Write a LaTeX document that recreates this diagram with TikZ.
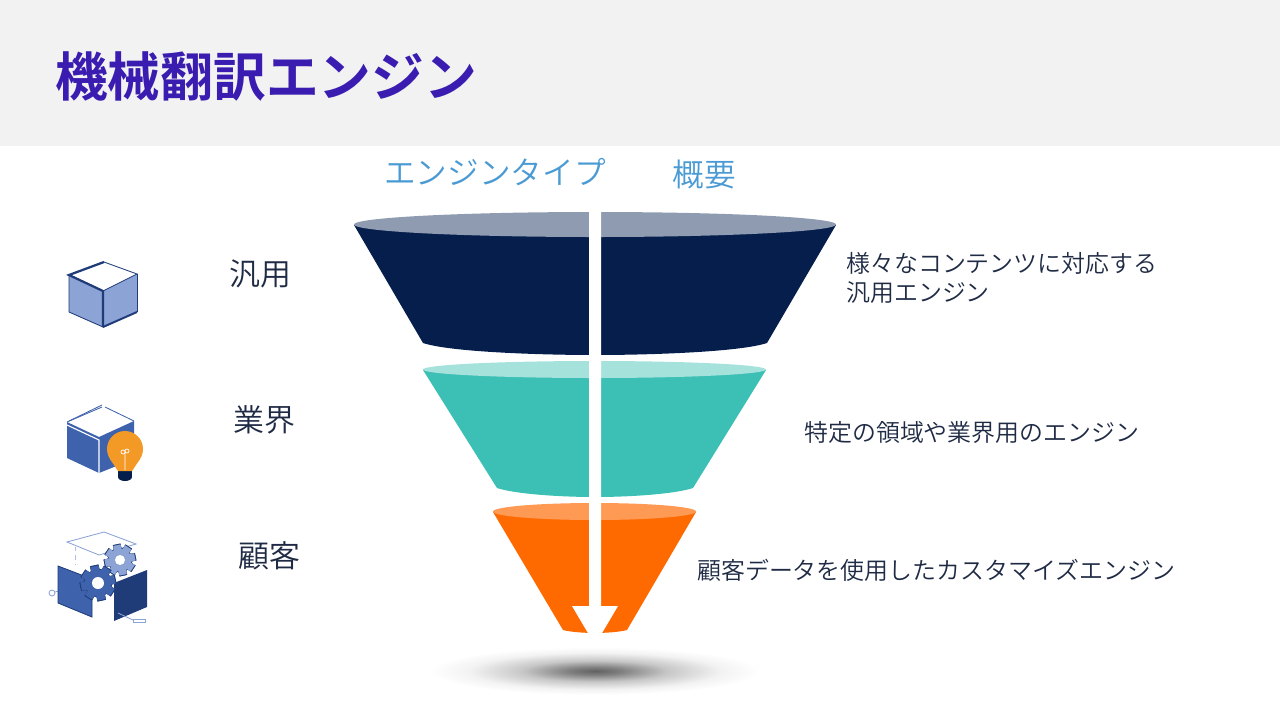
\documentclass[tikz,border=0pt]{standalone}
\usepackage{fontspec}
\setmainfont{Noto Sans CJK JP DemiLight}[BoldFont={Noto Sans CJK JP Bold}]
\definecolor{headgray}{HTML}{F2F2F2}
\definecolor{titleblue}{HTML}{3A1CB0}
\definecolor{skyblue}{HTML}{4A9AD4}
\definecolor{inkblue}{HTML}{1F2A44}
\definecolor{navy}{HTML}{051E4C}
\definecolor{navylight}{HTML}{8F9BB0}
\definecolor{teal1}{HTML}{3CBFB5}
\definecolor{teallight}{HTML}{A5E2DC}
\definecolor{orange1}{HTML}{FF6A00}
\definecolor{orangelight}{HTML}{FF9A55}
\definecolor{iconpale}{HTML}{8CA3D6}
\definecolor{iconmid}{HTML}{3E62AC}
\definecolor{icondark}{HTML}{1F3B78}
\definecolor{bulb}{HTML}{F39A26}
\pgfdeclareradialshading{floorshadow}{\pgfpoint{0bp}{0bp}}{color(0bp)=(black!62);color(4bp)=(black!50);color(11bp)=(black!22);color(19bp)=(black!5);color(25bp)=(white);color(50bp)=(white)}
\newcommand{\geartooth}[4]{
	\foreach \ang in {0,45,...,315}{
		\fill[#4,rotate around={\ang+12:(#1,#2)}] ({#1-#3*0.24},{#2-#3}) rectangle ({#1+#3*0.24},{#2+#3});
	}
	\fill[#4] (#1,#2) circle [radius=#3*0.78];
}
\begin{document}
\begin{tikzpicture}
	[x=0.25mm,y=-0.25mm,
	headtext/.style={text=titleblue,font=\fontsize{37.5}{45}\selectfont\bfseries},
	coltext/.style={text=skyblue,font=\fontsize{22.5}{27}\selectfont},
	typetext/.style={text=inkblue,font=\fontsize{22}{26}\selectfont},
	desctext/.style={text=inkblue,anchor=west,align=left,inner sep=0pt,font=\fontsize{17.02}{20}\selectfont}]
	\useasboundingbox (0,0) rectangle (1280,720);
	\fill[headgray] (0,0) rectangle (1280,146);
	\node[headtext,name=title] at (266,76) {機械翻訳エンジン};
	\node[coltext,name=coltype] at (495,172) {エンジンタイプ};
	\node[coltext,name=colsum] at (704,174) {概要};
	\node[typetext,name=general] at (260,274) {汎用};
	\node[typetext,name=industry] at (264,420) {業界};
	\node[typetext,name=customer] at (269.5,556) {顧客};
	\node[desctext,name=descgeneral] at (846,278) {様々なコンテンツに対応する\\汎用エンジン};
	\node[desctext,name=descindustry] at (804,432) {特定の領域や業界用のエンジン};
	\node[desctext,name=desccustomer] at (697,570) {顧客データを使用したカスタマイズエンジン};
	\shade[shading=floorshadow] (595,671) ellipse [x radius=165,y radius=24];
	\fill[navy] (354,225)--(423,343) .. controls (450,352) and (540,355) .. (595,355) .. controls (650,355) and (740,352) .. (767,343)--(836,225)--cycle;
	\fill[navylight] (595,224.5) ellipse [x radius=241,y radius=12.5];
	\fill[teal1] (423,370)--(497,488) .. controls (515,494) and (560,497) .. (595,497) .. controls (630,497) and (675,494) .. (693,488)--(766,370)--cycle;
	\fill[teallight] (594.5,369.5) ellipse [x radius=171.5,y radius=8.5];
	\fill[orange1] (493,512)--(563,630) .. controls (570,632) and (585,633) .. (595,633) .. controls (605,633) and (620,632) .. (627,630)--(696,512)--cycle;
	\fill[orangelight] (594.5,511.5) ellipse [x radius=101.5,y radius=8.5];
	\fill[white] (589,205)--(601,205)--(601,606)--(618,606)--(595,645)--(572,606)--(589,606)--cycle;
	\fill[iconpale] (69,275)--(103,291)--(137,274)--(137,312)--(103,327)--(69,312)--cycle;
	\draw[icondark,line width=1.6pt] (104,262)--(69,275)--(103,291)--(103,327);
	\draw[icondark,line width=0.6pt] (104,262)--(137,274)--(103,291);
	\draw[icondark,line width=0.6pt] (137,274)--(137,312);
	\draw[icondark,line width=0.6pt] (69,275)--(69,312)--(103,327);
	\draw[icondark,line width=1.4pt] (103,327)--(137,312);
	\fill[iconmid] (67,422)--(99,437)--(134,421)--(134,459)--(99,473)--(67,458)--cycle;
	\draw[iconmid,line width=0.6pt] (67,422)--(102,407);
	\draw[iconmid,line width=0.6pt] (105,407)--(134,421);
	\draw[iconmid,line width=0.6pt] (69,421)--(102,405);
	\draw[white,line width=0.8pt] (67,425)--(99,440)--(99,473);
	\fill[navy] (118,468) rectangle (132,477);
	\fill[navy] (125,477) ellipse [x radius=7,y radius=4];
	\fill[bulb] (125,449) circle [radius=18];
	\fill[bulb] (110,459)--(118,471)--(132,471)--(140,459)--cycle;
	\draw[white,line width=0.5pt] (125,470)--(125,452) (123,452) circle [radius=2] (127,451) circle [radius=2];
	\draw[iconpale,fill=white,line width=0.6pt] (104,532)--(136,544)--(99,555)--(67,542)--cycle;
	\draw[iconpale!70!white,dashed,line width=0.6pt] (75,547)--(75,565);
	\draw[iconpale,line width=0.6pt] (55,592)--(73,587);
	\draw[iconpale,line width=0.6pt] (52,593) circle [radius=3];
	\draw[icondark,fill=iconmid,line width=0.6pt] (58,566)--(92,579)--(92,617)--(58,603)--cycle;
	\geartooth{120}{560}{16}{icondark}
	\geartooth{120}{560}{15}{iconpale}
	\fill[white] (120,560) circle [radius=5];
	\fill[icondark] (114,583)--(147,570)--(147,607)--(114,621)--cycle;
	\geartooth{98}{583}{18}{icondark}
	\geartooth{98}{583}{17}{iconmid}
	\fill[white] (98,583) circle [radius=6];
	\draw[iconpale,line width=0.6pt] (118,613)--(133,620);
	\draw[iconpale,line width=0.6pt] (133,619) rectangle (145,622);
\end{tikzpicture}
\end{document}
